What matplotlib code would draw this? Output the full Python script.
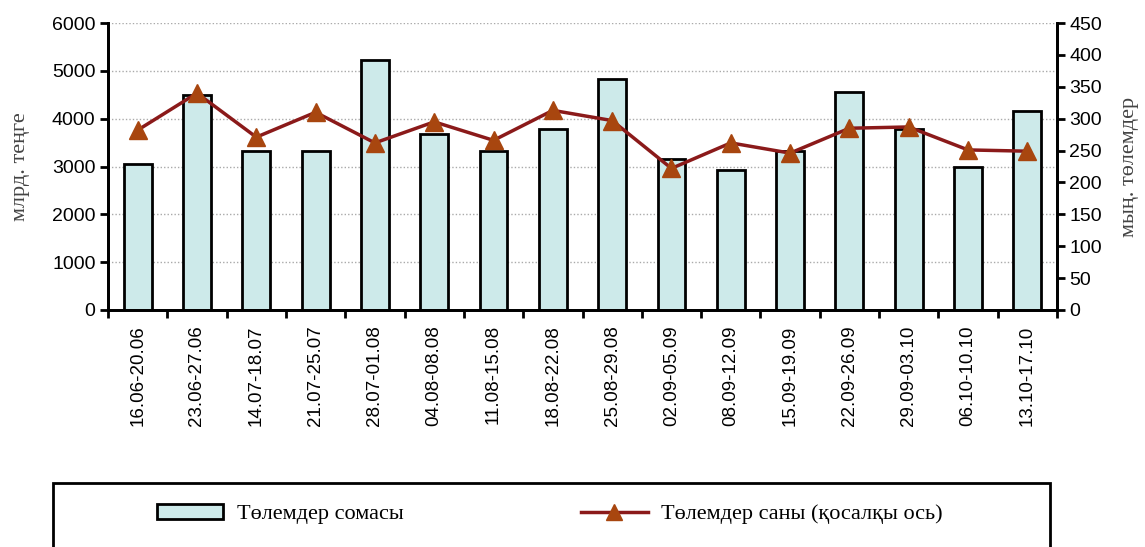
import numpy as np
import matplotlib
matplotlib.use('Agg')
import matplotlib.pyplot as plt
from matplotlib.patches import Rectangle

# data
weeks = ['16.06-20.06', '23.06-27.06', '14.07-18.07', '21.07-25.07', '28.07-01.08',
         '04.08-08.08', '11.08-15.08', '18.08-22.08', '25.08-29.08', '02.09-05.09',
         '08.09-12.09', '15.09-19.09', '22.09-26.09', '29.09-03.10', '06.10-10.10',
         '13.10-17.10']
pay_sum = [3050, 4500, 3330, 3330, 5230, 3670, 3330, 3780, 4830, 3160,
           2930, 3330, 4560, 3790, 3000, 4170]
pay_count = [282, 340, 271, 310, 262, 295, 266, 313, 297, 222,
             262, 246, 285, 287, 251, 249]

sans = 'Liberation Sans'
serif = 'Liberation Serif'

fig = plt.figure(figsize=(11.45, 5.47), dpi=100)
ax = fig.add_axes([108 / 1145, 1 - 310 / 547, (1057 - 108) / 1145, (310 - 23) / 547])
ax2 = ax.twinx()

x = np.arange(len(weeks))
ax.bar(x, pay_sum, width=0.47, color='#cdeaea', edgecolor='black', linewidth=2, zorder=3)
ax.set_ylim(0, 6000)
ax.set_xlim(-0.5, len(weeks) - 0.5)
ax.set_yticks(np.arange(0, 6001, 1000))
ax.yaxis.grid(True, linestyle=(0, (1, 1.5)), color='#aaaaaa', linewidth=1, zorder=0)
ax.set_axisbelow(True)

ax.set_xticks(x)
ax.set_xticklabels(weeks, rotation=90, fontfamily=sans, fontsize=13.5)
ax.tick_params(axis='x', length=0, pad=11)
ax.set_xticks(np.arange(-0.5, len(weeks), 1), minor=True)
ax.tick_params(axis='x', which='minor', length=6, width=2, direction='out')
ax.tick_params(axis='y', length=6, width=2, direction='out', labelsize=14, pad=3)
for lbl in ax.get_yticklabels():
    lbl.set_fontfamily(sans)
ax.set_ylabel('млрд. теңге', fontfamily=serif, fontsize=16, color='#444444', labelpad=16)

ax2.plot(x, pay_count, color='#8b1a1a', linewidth=2.5, marker='^', markersize=13,
         markerfacecolor='#a8460f', markeredgecolor='#a8460f', zorder=4)
ax2.set_ylim(0, 450)
ax2.set_yticks(np.arange(0, 451, 50))
ax2.tick_params(axis='y', length=6, width=2, direction='out', labelsize=14, pad=3)
for lbl in ax2.get_yticklabels():
    lbl.set_fontfamily(sans)
ax2.set_ylabel('мың. төлемдер', fontfamily=serif, fontsize=16, color='#444444', labelpad=13)

for a in (ax, ax2):
    a.spines['top'].set_visible(False)
    for s in ('left', 'right', 'bottom'):
        a.spines[s].set_linewidth(2)

# legend box (bottom edge runs off the picture)
fig.patches.append(Rectangle((53 / 1145, -0.05), (1050 - 53) / 1145, 0.05 + 1 - 483 / 547,
                             transform=fig.transFigure, fill=False, edgecolor='black',
                             linewidth=2))
h_bar = Rectangle((0, 0), 1, 1, facecolor='#cdeaea', edgecolor='black', linewidth=2)
h_line, = ax.plot([], [], color='#8b1a1a', linewidth=2.5, marker='^', markersize=11,
                  markerfacecolor='#a8460f', markeredgecolor='#a8460f')
fig.legend([h_bar, h_line], ['Төлемдер сомасы', 'Төлемдер саны (қосалқы ось)'],
           loc='center', bbox_to_anchor=(0.48, 1 - 514 / 547), ncol=2, frameon=False,
           prop={'family': serif, 'size': 16}, columnspacing=8, handlelength=3,
           handletextpad=0.6)

fig.savefig('out.png', dpi=100)
